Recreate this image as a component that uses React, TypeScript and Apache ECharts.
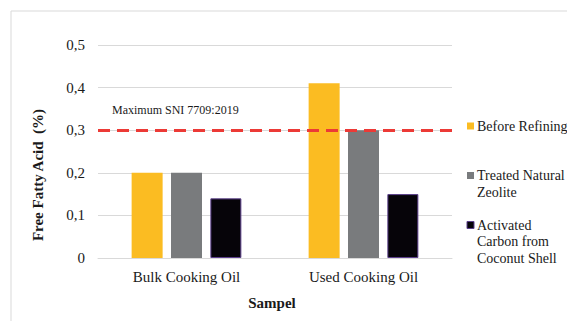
import React, { useEffect, useRef } from "react";
import * as echarts from "echarts";

const categories = ["Bulk Cooking Oil", "Used Cooking Oil"];
const seriesNames = ["Before Refining", "Treated Natural\nZeolite", "Activated\nCarbon from\nCoconut Shell"];
const beforeRefining = [0.2, 0.41];
const treatedZeolite = [0.2, 0.3];
const activatedCarbon = [0.14, 0.15];
const sniMaximum = 0.3;
const sniLabel = "Maximum SNI 7709:2019";
const yTicks = [0, 0.1, 0.2, 0.3, 0.4, 0.5];

const FONT = "Liberation Serif";
const colors = ["#FBBC22", "#797B7D", "#060409"];

export default function App() {
  const ref = useRef<HTMLDivElement>(null);
  useEffect(() => {
    if (!ref.current) return;
    const chart = echarts.init(ref.current, undefined, { renderer: "svg" });
    const values = [beforeRefining, treatedZeolite, activatedCarbon];
    const legendCenters = [126, 175.5, 225];
    const legendGraphics: any[] = [];
    seriesNames.forEach((n, i) => {
      legendGraphics.push({
        type: "rect",
        shape: { x: 467, y: legendCenters[i] - 3.5, width: 7, height: 7 },
        style: { fill: colors[i], stroke: i === 2 ? "#5B3F8C" : null, lineWidth: 1 },
      });
      legendGraphics.push({
        type: "text",
        x: 477,
        y: legendCenters[i] - 8.25,
        style: {
          text: n,
          fontFamily: FONT,
          fontSize: 14,
          fill: "#1a1a1a",
          lineHeight: 16.5,
          verticalAlign: "top",
        },
      });
    });
    chart.setOption({
      animation: false,
      backgroundColor: "#ffffff",
      textStyle: { fontFamily: FONT },
      grid: { left: 98, right: 115, top: 45, bottom: 63 },
      xAxis: {
        type: "category",
        data: categories,
        axisTick: { show: false },
        axisLine: { lineStyle: { color: "#d9d9d9", width: 1 } },
        axisLabel: { color: "#1a1a1a", fontSize: 15, fontFamily: FONT, margin: 11 },
      },
      yAxis: {
        type: "value",
        min: yTicks[0],
        max: yTicks[yTicks.length - 1],
        interval: 0.1,
        axisLine: { show: false },
        axisTick: { show: false },
        splitLine: { lineStyle: { color: "#d9d9d9", width: 1 } },
        axisLabel: {
          color: "#1a1a1a",
          fontSize: 15,
          fontFamily: FONT,
          margin: 13,
          formatter: (v: number) => (Math.round(v * 10) / 10).toString().replace(".", ","),
        },
      },
      series: values.map((d, i) => ({
        type: "bar",
        name: seriesNames[i],
        data: d,
        barWidth: 31,
        barGap: "27%",
        itemStyle: {
          color: colors[i],
          borderColor: i === 2 ? "#5B3F8C" : undefined,
          borderWidth: i === 2 ? 1 : 0,
        },
        markLine:
          i === 0
            ? {
                silent: true,
                symbol: "none",
                label: { show: false },
                lineStyle: { color: "#EC3A36", type: [12, 7], width: 3 },
                data: [{ yAxis: sniMaximum }],
              }
            : undefined,
      })),
      graphic: [
        {
          type: "rect",
          shape: { x: 11, y: 11, width: 700, height: 500 },
          style: { fill: null, stroke: "#d9d9d9", lineWidth: 1 },
          silent: true,
        },
        {
          type: "text",
          x: 112,
          y: 110,
          style: { text: sniLabel, fontFamily: FONT, fontSize: 12, fill: "#1a1a1a", verticalAlign: "middle" },
        },
        {
          type: "text",
          x: 38,
          y: 175,
          rotation: Math.PI / 2,
          style: {
            text: "Free Fatty Acid  (%)",
            fontFamily: FONT,
            fontSize: 15,
            fontWeight: "bold",
            fill: "#1a1a1a",
            align: "center",
            verticalAlign: "middle",
          },
        },
        {
          type: "text",
          x: 272,
          y: 303,
          style: {
            text: "Sampel",
            fontFamily: FONT,
            fontSize: 15,
            fontWeight: "bold",
            fill: "#1a1a1a",
            align: "center",
            verticalAlign: "middle",
          },
        },
        ...legendGraphics,
      ],
    });
    return () => chart.dispose();
  }, []);
  return <div ref={ref} style={{ width: 567, height: 321, position: "absolute", left: 0, top: 0 }} />;
}
